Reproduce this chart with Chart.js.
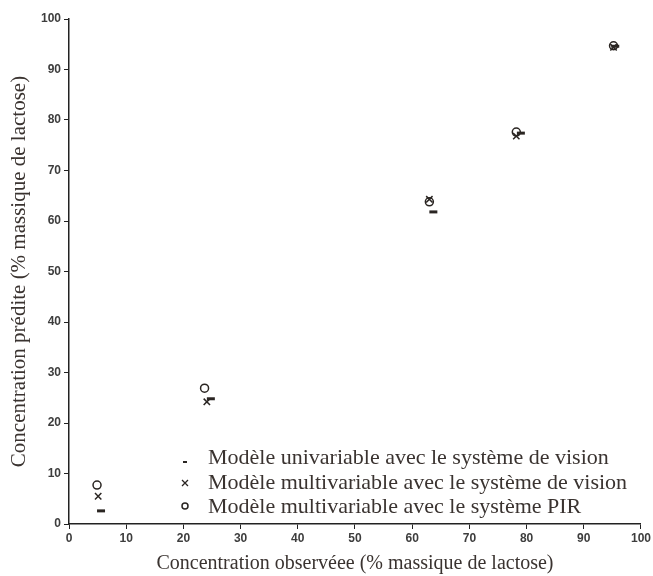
<!DOCTYPE html>
<html>
<head>
<meta charset="utf-8">
<script src="https://cdn.jsdelivr.net/npm/chart.js@4"></script>
<style>
  html, body { margin: 0; padding: 0; background: #fff; }
  #wrap { width: 653px; height: 576px; }
</style>
</head>
<body>
<div id="wrap"><canvas id="grafica"></canvas></div>
<script>
const seriesLabels = [
  'Modèle univariable avec le système de vision',
  'Modèle multivariable avec le système de vision',
  'Modèle multivariable avec le système PIR'
];
const univX = [5.6, 24.8, 63.7, 79.0, 95.5];
const univY = [2.6, 24.8, 61.8, 77.4, 94.6];
const multiVisX = [5.1, 24.1, 63.0, 78.2, 95.2];
const multiVisY = [5.5, 24.2, 64.3, 76.8, 94.4];
const pirX = [4.9, 23.7, 63.0, 78.2, 95.2];
const pirY = [7.7, 26.9, 63.8, 77.6, 94.7];
const xTitle = 'Concentration observéee (% massique de lactose)';
const yTitle = 'Concentration prédite (% massique de lactose)';

function pts(xs, ys) {
  return xs.map(function (x, i) { return { x: x, y: ys[i] }; });
}

const ink = '#2a2522';
const serif = '"Liberation Serif", "DejaVu Serif", serif';

// legend drawn inside the plot, bottom right
const legendInterne = {
  id: 'legendInterne',
  afterDraw: function (chart) {
    const c = chart.ctx;
    const rows = [458, 483, 507];
    c.save();
    c.font = '22px ' + serif;
    c.fillStyle = '#3a3330';
    c.textBaseline = 'middle';
    seriesLabels.forEach(function (t, i) {
      c.fillText(t, 208, rows[i]);
    });
    c.strokeStyle = ink;
    // dash
    c.lineWidth = 2;
    c.beginPath(); c.moveTo(183, rows[0] + 4); c.lineTo(187, rows[0] + 4); c.stroke();
    // cross
    c.lineWidth = 1.3;
    c.beginPath();
    c.moveTo(182, rows[1] - 3); c.lineTo(188, rows[1] + 3);
    c.moveTo(188, rows[1] - 3); c.lineTo(182, rows[1] + 3);
    c.stroke();
    // circle
    c.lineWidth = 1.5;
    c.beginPath(); c.arc(185, rows[2] - 1, 3, 0, Math.PI * 2); c.stroke();
    c.restore();
  }
};

const ctx = document.getElementById('grafica').getContext('2d');
const grafica = new Chart(ctx, {
  type: 'scatter',
  data: {
    datasets: [
      {
        label: seriesLabels[0],
        data: pts(univX, univY),
        pointStyle: 'line',
        pointRadius: 4,
        borderWidth: 3,
        borderColor: ink,
        backgroundColor: ink
      },
      {
        label: seriesLabels[1],
        data: pts(multiVisX, multiVisY),
        pointStyle: 'crossRot',
        pointRadius: 4.5,
        borderWidth: 1.5,
        borderColor: ink,
        backgroundColor: ink
      },
      {
        label: seriesLabels[2],
        data: pts(pirX, pirY),
        pointStyle: 'circle',
        pointRadius: 4,
        borderWidth: 1.5,
        borderColor: ink,
        backgroundColor: 'rgba(0,0,0,0)'
      }
    ]
  },
  options: {
    responsive: true,
    maintainAspectRatio: false,
    animation: false,
    layout: { padding: { top: 19, right: 11, left: 0, bottom: 0 } },
    scales: {
      x: {
        type: 'linear',
        min: 0,
        max: 100,
        afterFit: function (s) { s.height = 52; },
        ticks: {
          stepSize: 10,
          color: '#3d3d3d',
          padding: 2,
          font: { family: 'Arial, "Liberation Sans", sans-serif', size: 12, weight: 'bold' }
        },
        grid: { drawOnChartArea: false, tickLength: 5, color: '#222' },
        border: { color: '#222', width: 1.5 },
        title: {
          display: true,
          text: xTitle,
          color: '#3a3330',
          font: { family: serif, size: 20 },
          padding: { top: 0, bottom: 0 }
        }
      },
      y: {
        type: 'linear',
        min: 0,
        max: 100,
        afterFit: function (s) { s.width = 69; },
        ticks: {
          stepSize: 10,
          color: '#3d3d3d',
          padding: 3,
          font: { family: 'Arial, "Liberation Sans", sans-serif', size: 12, weight: 'bold' }
        },
        grid: { drawOnChartArea: false, tickLength: 5, color: '#222' },
        border: { color: '#222', width: 1.5 },
        title: {
          display: true,
          text: yTitle,
          color: '#3a3330',
          font: { family: serif, size: 21 },
          padding: { top: 7, bottom: 0 }
        }
      }
    },
    plugins: {
      legend: { display: false },
      tooltip: { enabled: false }
    }
  },
  plugins: [legendInterne]
});
</script>
</body>
</html>
